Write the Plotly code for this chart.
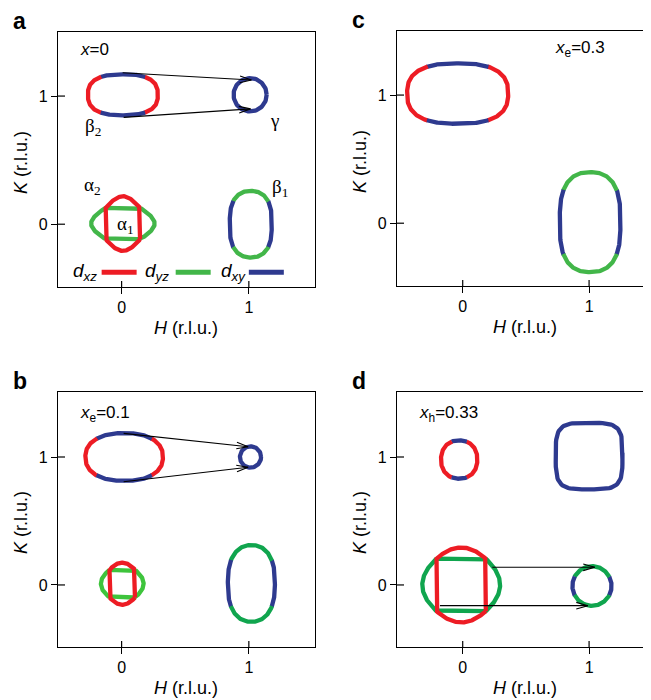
import numpy as np
import plotly.graph_objects as go

FONT = "Liberation Sans, Arial, Helvetica, sans-serif"
GREEK = "Liberation Serif, Times New Roman, serif"
RED = "#ED1C24"
GREEN = "#42B649"
GREEN_D = "#10A54E"
BLUE = "#2E3A8F"

OFF = 8                     # page body margin of the exported html
W, H = 651 - OFF, 700 - OFF

# ---- pocket tables: (H centre, K centre, half-width, half-height, x-exponent, y-exponent, colour segments [deg]) ----
POCKETS_A = [
    (0.01, 1.01, 0.275, 0.160, 2.6, 2.6, [(-57, 57, RED), (57, 123, BLUE), (123, 237, RED), (237, 303, BLUE)]),
    (1.01, 1.01, 0.130, 0.130, 2.0, 2.0, [(0, 360, BLUE)]),
    (1.015, 0.00, 0.165, 0.260, 2.2, 3.0, [(-35, 35, BLUE), (35, 145, GREEN), (145, 215, BLUE), (215, 325, GREEN)]),
]
POCKETS_B = [
    (0.02, 1.00, 0.305, 0.187, 2.3, 2.3, [(-48, 48, RED), (48, 132, BLUE), (132, 228, RED), (228, 312, BLUE)]),
    (1.013, 1.00, 0.083, 0.083, 2.0, 2.0, [(0, 360, BLUE)]),
    (1.02, 0.012, 0.185, 0.300, 2.2, 2.6, [(-31, 31, BLUE), (31, 149, GREEN_D), (149, 211, BLUE), (211, 329, GREEN_D)]),
]
POCKETS_C = [
    (-0.04, 1.012, 0.400, 0.236, 2.6, 2.6, [(-59, 59, RED), (59, 121, BLUE), (121, 239, RED), (239, 301, BLUE)]),
    (1.008, 0.008, 0.240, 0.390, 2.4, 3.0, [(-31, 31, BLUE), (31, 149, GREEN), (149, 211, BLUE), (211, 329, GREEN)]),
]
POCKETS_D = [
    (-0.028, 0.98, 0.144, 0.150, 2.2, 2.2, [(-68, 68, RED), (68, 112, BLUE), (112, 248, RED), (248, 292, BLUE)]),
    (1.00, 1.007, 0.264, 0.260, 4.0, 4.0, [(0, 360, BLUE)]),
    (1.023, -0.008, 0.155, 0.155, 2.0, 2.0, [(-28, 28, BLUE), (28, 152, GREEN_D), (152, 208, BLUE), (208, 332, GREEN_D)]),
]

# alpha pockets at (0,0): (H centre, K centre, crossing half-width, crossing half-height,
#                          d_xz outer half-height, d_yz outer half-width, cap exponent, d_xz colour, d_yz colour)
ALPHA_A = [(0.01, 0.005, 0.135, 0.122, 0.214, 0.250, 1.8, RED, GREEN)]
ALPHA_B = [(0.005, 0.01, 0.100, 0.108, 0.165, 0.168, 2.0, RED, "#3EC43C")]
ALPHA_C = []
ALPHA_D = [(-0.012, 0.0, 0.195, 0.205, 0.293, 0.308, 2.0, RED, GREEN_D)]

# nesting arrows: (tail H, tail K, head H, head K)
ARROWS_A = [(0.008, 1.182, 1.02, 1.125), (0.016, 0.834, 1.013, 0.90)]
ARROWS_B = [(0.016, 1.185, 0.994, 1.08), (0.016, 0.807, 0.994, 0.92)]
ARROWS_D = [(0.234, 0.138, 1.045, 0.138), (-0.18, -0.162, 0.99, -0.162)]

# text labels (H, K, text, greek?)
LABELS_A = [(-0.21, 1.36, "<i>x</i>=0", False), (-0.225, 0.755, "β<sub>2</sub>", True), (1.2, 0.81, "γ", True),
            (-0.23, 0.30, "α<sub>2</sub>", True), (1.245, 0.28, "β<sub>1</sub>", True), (0.03, -0.005, "α<sub>1</sub>", True)]
LABELS_B = [(-0.13, 1.336, "<i>x</i><sub>e</sub>=0.1", False)]
LABELS_C = [(0.93, 1.36, "<i>x</i><sub>e</sub>=0.3", False)]
LABELS_D = [(-0.11, 1.336, "<i>x</i><sub>h</sub>=0.33", False)]

# orbital legend in panel a: (text centre H, line start H, line end H, colour, label)
LEGEND_K = -0.375
LEGEND_ITEMS = [(-0.29, -0.157, 0.118, RED, "<i>d</i><sub><i>xz</i></sub>"),
                (0.28, 0.425, 0.70, GREEN, "<i>d</i><sub><i>yz</i></sub>"),
                (0.88, 1.0, 1.275, BLUE, "<i>d</i><sub><i>xy</i></sub>")]

TICKS = [0, 1]
TICK_TEXT = ["0", "1"]

# panel layout (reference pixel boxes) and ranges
PANELS = [
    # name, xaxis, yaxis, left, right, top, bottom, xrange, yrange, pockets, alpha, arrows, labels, right border
    ("a", "x", "y", 58, 315, 32, 287, [-0.5, 1.52], [-0.49, 1.5], POCKETS_A, ALPHA_A, ARROWS_A, LABELS_A, True),
    ("b", "x2", "y2", 58, 315, 392, 647, [-0.5, 1.52], [-0.485, 1.508], POCKETS_B, ALPHA_B, ARROWS_B, LABELS_B, True),
    ("c", "x3", "y3", 397, 651, 31, 286, [-0.52, 1.49], [-0.49, 1.5], POCKETS_C, ALPHA_C, [], LABELS_C, False),
    ("d", "x4", "y4", 397, 651, 392, 647, [-0.52, 1.49], [-0.485, 1.508], POCKETS_D, ALPHA_D, ARROWS_D, LABELS_D, False),
]


def px(x):
    return (x - OFF) / W


def py(y):
    return 1 - (y - OFF) / H


def curve(cx, cy, a, b, p, q, t0, t1):
    t = np.radians(np.linspace(t0 - 0.6, t1 + 0.6, 90))
    c, s = np.cos(t), np.sin(t)
    x = cx + a * np.sign(c) * np.abs(c) ** (2.0 / p)
    y = cy + b * np.sign(s) * np.abs(s) ** (2.0 / q)
    return x, y


def capped(w, h, top, e, n=40):
    """closed outline: straight sides at +-w for |v|<=h, arched caps reaching +-top (local u, v)"""
    side = np.linspace(-h, h, n)
    uu = np.linspace(w, -w, 2 * n)
    cap = h + (top - h) * (1 - np.abs(uu / w) ** e)
    u = np.concatenate([np.full(n, w), uu, np.full(n, -w), -uu, [w]])
    v = np.concatenate([side, cap, -side, -cap, [-h]])
    return u, v


fig = go.Figure()
shapes = []
annotations = []

for (name, xa, ya, l, r, t, btm, xr, yr, pockets, alphas, arrows, labels, rborder) in PANELS:
    sfx = xa[1:]
    axis_common = dict(showgrid=False, zeroline=False, showline=True, linecolor="black", linewidth=1.2,
                       ticks="outside", ticklen=6, tickwidth=1.2, tickcolor="black",
                       tickvals=TICKS, ticktext=TICK_TEXT, tickfont=dict(family=FONT, size=16, color="black"),
                       fixedrange=True)
    fig.update_layout(**{
        "xaxis" + sfx: dict(domain=[px(l), min(1.0, px(r))], range=xr, anchor=ya, mirror=True, **axis_common),
        "yaxis" + sfx: dict(domain=[py(btm), py(t)], range=yr, anchor=xa, mirror=rborder, **axis_common),
    })
    sx = (r - l) / (xr[1] - xr[0])
    sy = (btm - t) / (yr[1] - yr[0])
    # inner half of the crossing ticks
    for v in TICKS:
        shapes.append(dict(type="line", xref=xa, yref=ya + " domain", x0=v, x1=v, y0=0, y1=6 / (btm - t),
                           line=dict(color="black", width=1.2)))
        shapes.append(dict(type="line", xref=xa + " domain", yref=ya, x0=0, x1=7 / (r - l), y0=v, y1=v,
                           line=dict(color="black", width=1.2)))
    # pockets
    for (cx, cy, a, b, p, q, segs) in pockets:
        for (s0, s1, col) in segs:
            x, y = curve(cx, cy, a, b, p, q, s0, s1)
            fig.add_trace(go.Scatter(x=x, y=y, mode="lines", xaxis=xa, yaxis=ya,
                                     line=dict(color=col, width=4.3), hoverinfo="skip"))
    # alpha pockets: d_yz (wide) and d_xz (tall) crossing contours
    for (cx, cy, hw, hh, rtop, gside, e, rcol, gcol) in alphas:
        u, v = capped(hh, hw, gside, e)          # wide contour (axes swapped)
        fig.add_trace(go.Scatter(x=cx + v, y=cy + u, mode="lines", xaxis=xa, yaxis=ya,
                                 line=dict(color=gcol, width=4.3), hoverinfo="skip"))
        u, v = capped(hw, hh, rtop, e)
        fig.add_trace(go.Scatter(x=cx + u, y=cy + v, mode="lines", xaxis=xa, yaxis=ya,
                                 line=dict(color=rcol, width=4.3), hoverinfo="skip"))
    # arrows with open chevron heads
    for (tx, ty, hx, hy) in arrows:
        fig.add_trace(go.Scatter(x=[tx, hx], y=[ty, hy], mode="lines", xaxis=xa, yaxis=ya,
                                 line=dict(color="black", width=1.1), hoverinfo="skip"))
        dxp, dyp = (hx - tx) * sx, (hy - ty) * sy
        nrm = np.hypot(dxp, dyp)
        ux, uy = dxp / nrm, dyp / nrm
        bx, by = [], []
        for sgn in (1, -1):
            ang = np.radians(16) * sgn
            rx = -(ux * np.cos(ang) - uy * np.sin(ang)) * 12
            ry = -(ux * np.sin(ang) + uy * np.cos(ang)) * 12
            bx.append(hx + rx / sx)
            by.append(hy + ry / sy)
        fig.add_trace(go.Scatter(x=[bx[0], hx, bx[1]], y=[by[0], hy, by[1]], mode="lines", xaxis=xa, yaxis=ya,
                                 line=dict(color="black", width=1.1), hoverinfo="skip"))
    for (lx, ly, txt, greek) in labels:
        annotations.append(dict(x=lx, y=ly, xref=xa, yref=ya, text=txt, showarrow=False,
                                xanchor="center", yanchor="middle",
                                font=dict(family=GREEK if greek else FONT, size=19 if greek else 17,
                                          color="black")))
    # panel letter
    annotations.append(dict(x=px(l - 47), y=py(t - 11), xref="paper", yref="paper", text="<b>%s</b>" % name,
                            showarrow=False, xanchor="left", yanchor="middle",
                            font=dict(family=FONT, size=23, color="black")))
    # axis titles
    annotations.append(dict(x=px(l + 128), y=py(btm + 41), xref="paper", yref="paper",
                            text="<i>H</i> (r.l.u.)", showarrow=False, xanchor="center", yanchor="middle",
                            font=dict(family=FONT, size=18, color="black")))
    annotations.append(dict(x=px(l - 37), y=py(t + 131), xref="paper", yref="paper",
                            text="<i>K</i> (r.l.u.)", showarrow=False, textangle=-90,
                            xanchor="center", yanchor="middle",
                            font=dict(family=FONT, size=18, color="black")))

# orbital legend (panel a)
for (tcx, l0, l1, col, txt) in LEGEND_ITEMS:
    shapes.append(dict(type="line", xref="x", yref="y", x0=l0, x1=l1, y0=LEGEND_K, y1=LEGEND_K,
                       line=dict(color=col, width=5)))
    annotations.append(dict(x=tcx, y=LEGEND_K, xref="x", yref="y", text=txt, showarrow=False,
                            xanchor="center", yanchor="middle",
                            font=dict(family=FONT, size=19, color="black")))

fig.update_layout(width=W, height=H, margin=dict(l=0, r=0, t=0, b=0), showlegend=False,
                  paper_bgcolor="white", plot_bgcolor="white", shapes=shapes, annotations=annotations)

fig.write_html("out.html")
